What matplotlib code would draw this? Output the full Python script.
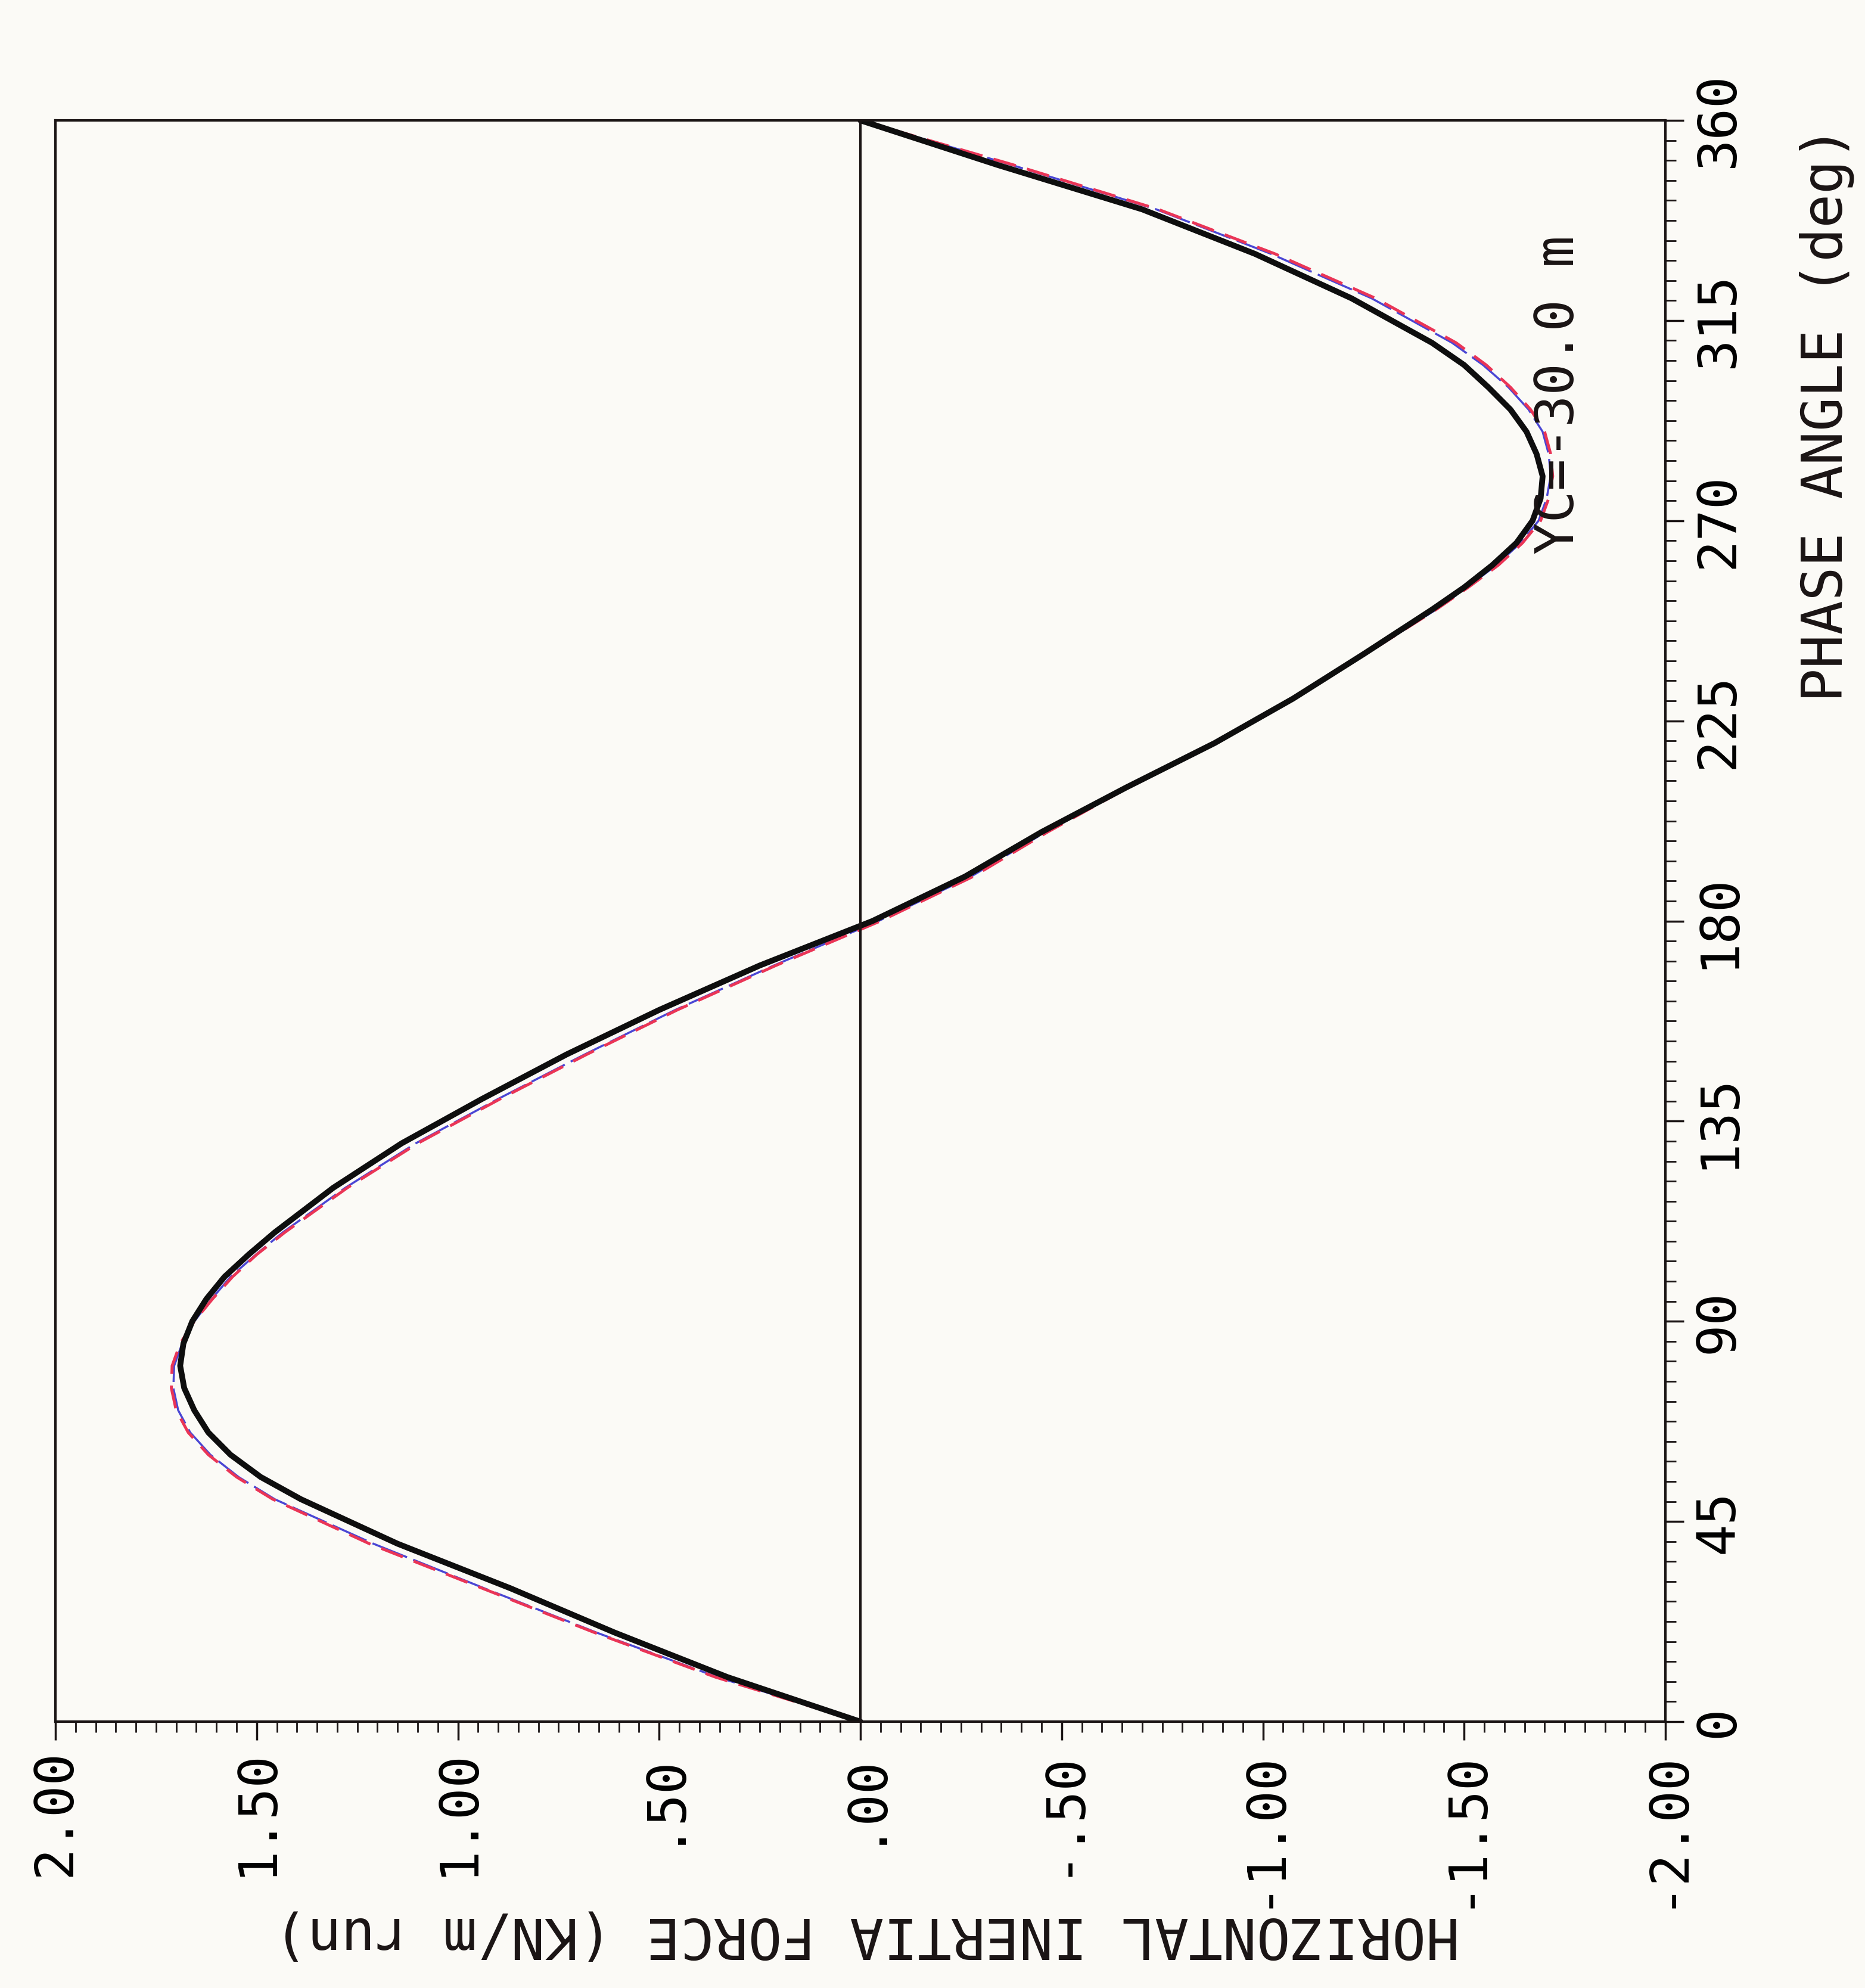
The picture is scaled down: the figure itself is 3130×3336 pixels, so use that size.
import matplotlib
matplotlib.use('Agg')
import matplotlib.pyplot as plt
from matplotlib.ticker import MultipleLocator, FixedLocator

# Phase angle (deg) and horizontal inertia force (KN/m run)
phase = [0, 10, 20, 30, 40, 50, 55, 60, 65, 70, 75, 80, 85, 90, 95, 100, 105,
         110, 120, 130, 140, 150, 160, 170, 180, 190, 200, 210, 220, 230, 240,
         250, 255, 260, 265, 270, 275, 280, 285, 290, 295, 300, 305, 310, 320,
         330, 340, 350, 360]
force_black = [0.0, 0.33, 0.61, 0.87, 1.15, 1.39, 1.49, 1.565, 1.62, 1.655,
               1.68, 1.69, 1.682, 1.66, 1.625, 1.58, 1.52, 1.455, 1.31, 1.14,
               0.94, 0.73, 0.50, 0.25, -0.03, -0.26, -0.45, -0.66, -0.88,
               -1.075, -1.25, -1.42, -1.50, -1.57, -1.63, -1.67, -1.69, -1.695,
               -1.68, -1.655, -1.615, -1.56, -1.50, -1.42, -1.22, -0.98, -0.70,
               -0.34, 0.0]
force_blue = [0.0, 0.355, 0.655, 0.935, 1.21, 1.455, 1.545, 1.615, 1.665, 1.695,
              1.707, 1.705, 1.685, 1.655, 1.612, 1.565, 1.502, 1.435, 1.28, 1.105,
              0.90, 0.685, 0.46, 0.215, -0.045, -0.275, -0.46, -0.665, -0.88,
              -1.075, -1.255, -1.43, -1.507, -1.58, -1.64, -1.685, -1.705, -1.715,
              -1.71, -1.695, -1.66, -1.61, -1.547, -1.47, -1.27, -1.02, -0.735,
              -0.375, 0.0]
force_red = [0.0, 0.36, 0.66, 0.94, 1.22, 1.46, 1.55, 1.62, 1.67, 1.70,
             1.712, 1.71, 1.69, 1.655, 1.61, 1.56, 1.50, 1.43, 1.275, 1.10,
             0.895, 0.68, 0.455, 0.21, -0.05, -0.28, -0.465, -0.665, -0.88,
             -1.075, -1.255, -1.43, -1.51, -1.585, -1.645, -1.69, -1.71, -1.72,
             -1.715, -1.70, -1.665, -1.615, -1.555, -1.48, -1.28, -1.03, -0.74,
             -0.38, 0.0]

force_ticks = [2.0, 1.5, 1.0, 0.5, 0.0, -0.5, -1.0, -1.5, -2.0]
force_tick_labels = ['2.00', '1.50', '1.00', '.50', '.00', '-.50', '-1.00', '-1.50', '-2.00']
phase_ticks = [0, 45, 90, 135, 180, 225, 270, 315, 360]
phase_tick_labels = ['0', '45', '90', '135', '180', '225', '270', '315', '360']

plt.rcParams['font.family'] = ['DejaVu Sans Mono']
plt.rcParams['lines.scale_dashes'] = False
FS = 64
LFS = 68
bg = '#fbfaf6'
ink = '#1a1414'

W, H = 3130, 3336
fig = plt.figure(figsize=(W / 100, H / 100), dpi=100, facecolor=bg)
ax = fig.add_axes([93 / W, 1 - 2889 / H, (2795 - 93) / W, (2889 - 202) / H])
ax.set_facecolor(bg)

# the plot is drawn turned on its side: force across, phase upwards
ax.plot(force_blue, phase, color='#4a46d4', lw=2.5, ls=(0, (45, 8)),
        solid_joinstyle='round', dash_joinstyle='round')
ax.plot(force_red, phase, color='#ea3556', lw=3.5, ls=(0, (28, 14)),
        dash_joinstyle='round')
ax.plot(force_black, phase, color='#0e0e0e', lw=7, solid_capstyle='round',
        solid_joinstyle='round')
ax.axvline(0, color=ink, lw=3)

ax.set_xlim(2, -2)
ax.set_ylim(0, 360)

ax.xaxis.set_major_locator(FixedLocator(force_ticks))
ax.set_xticklabels(force_tick_labels, rotation=90, fontsize=FS)
ax.xaxis.set_minor_locator(MultipleLocator(0.05))

ax.yaxis.tick_right()
ax.yaxis.set_major_locator(FixedLocator(phase_ticks))
ax.set_yticklabels(phase_tick_labels, rotation=90, va='center', fontsize=FS)
ax.yaxis.set_minor_locator(MultipleLocator(4.5))

ax.tick_params(which='major', length=22, width=2.5, direction='out', pad=11, color=ink)
ax.tick_params(which='minor', length=13, width=2, direction='out', color=ink)
ax.tick_params(which='both', top=False, left=False, bottom=True, right=True)
for s in ax.spines.values():
    s.set_linewidth(3)
    s.set_color(ink)

fig.text(3065 / W, 1 - 211 / H, 'PHASE ANGLE (deg)', rotation=90,
         ha='center', va='top', fontsize=LFS, color=ink)
fig.text(1455 / W, 1 - 3245 / H, 'HORIZONTAL INERTIA FORCE (KN/m run)', rotation=180,
         ha='center', va='center', fontsize=LFS, color=ink)
ax.text(-1.736, 262.4, 'YC=-30.0 m', rotation=90, ha='center', va='bottom',
        fontsize=FS, color=ink)

plt.savefig('out.png', dpi=100, facecolor=bg)
